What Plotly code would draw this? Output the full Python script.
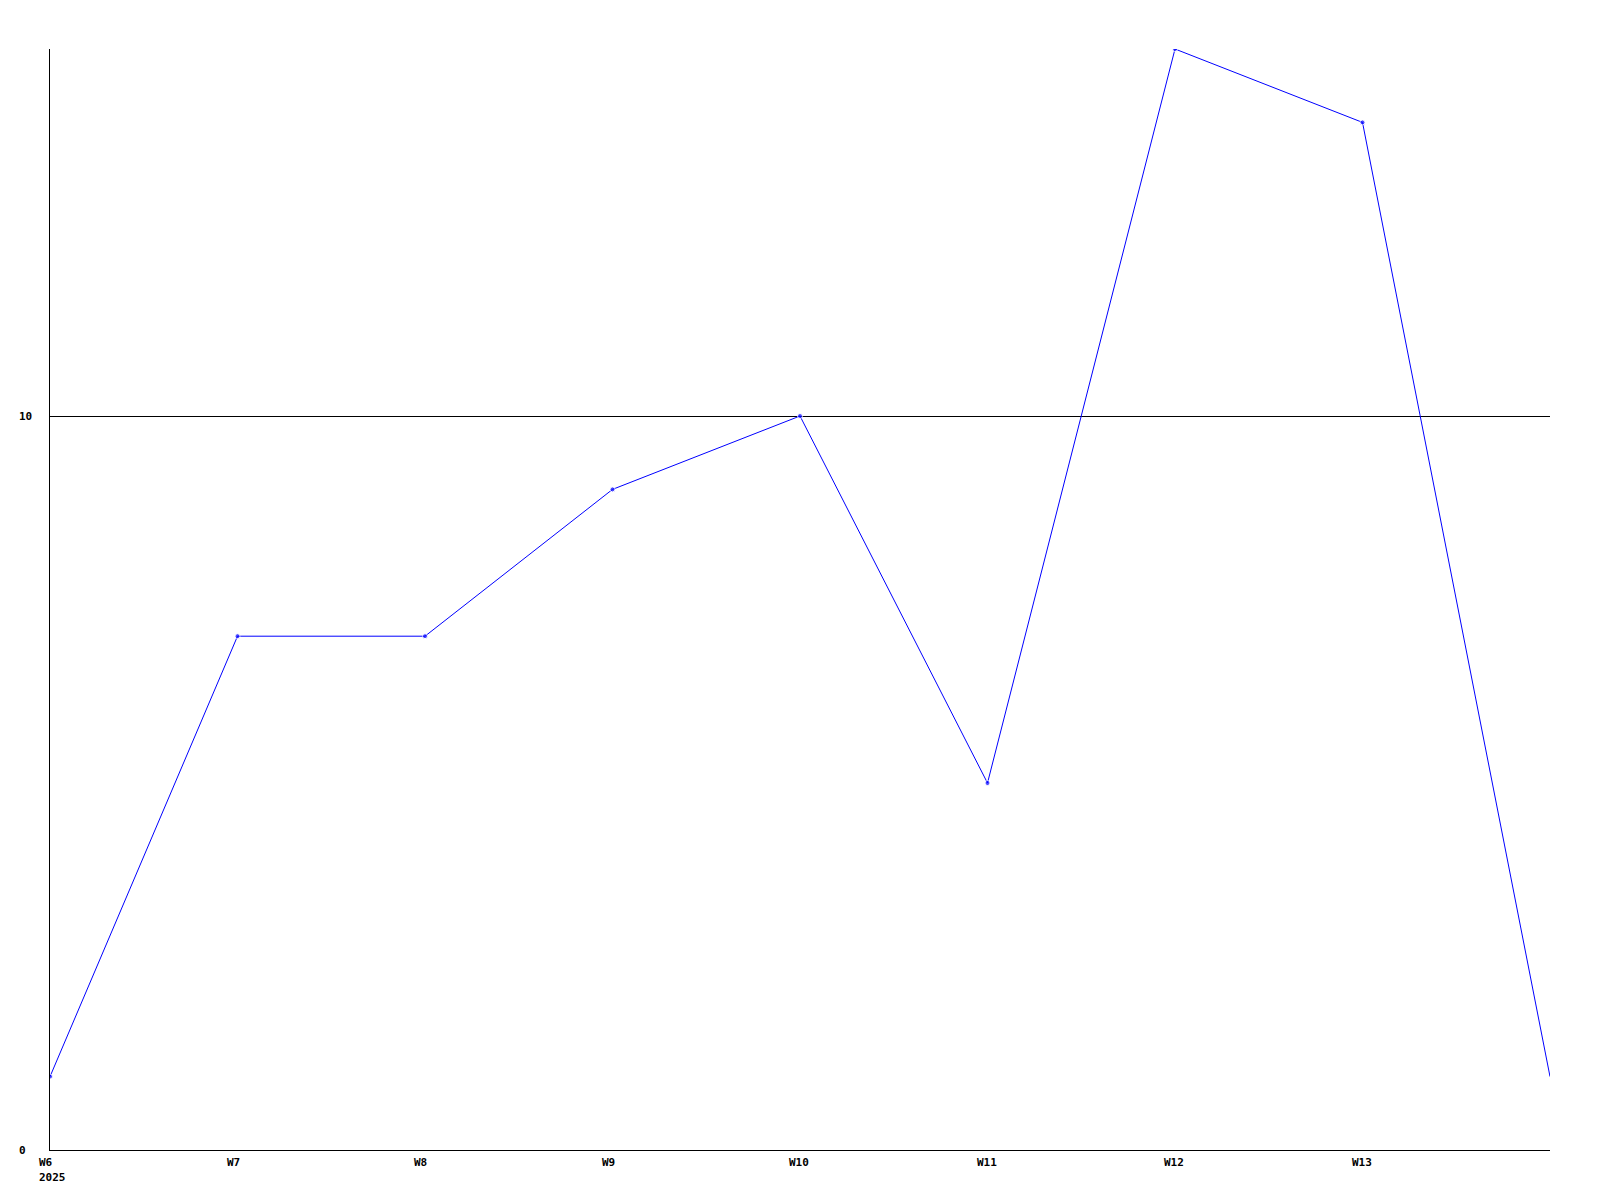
import plotly.graph_objects as go

weeks = ["W6", "W7", "W8", "W9", "W10", "W11", "W12", "W13", "W14"]
values = [1, 7, 7, 9, 10, 5, 15, 14, 1]
x_tick_labels = ["W6", "W7", "W8", "W9", "W10", "W11", "W12", "W13"]
year_label = "2025"
y_tick_values = [0, 10]
y_tick_labels = ["0", "10"]

xpos = list(range(len(weeks)))
marker_sizes = [5] * (len(weeks) - 1) + [0]

FONT = "DejaVu Sans Mono"

fig = go.Figure()
fig.add_trace(go.Scatter(
    x=xpos, y=values, mode="lines+markers",
    line=dict(color="#0000ff", width=1),
    marker=dict(color="#0000ff", size=marker_sizes, symbol="circle"),
    showlegend=False, hoverinfo="y",
))

annotations = []
for i, lab in enumerate(x_tick_labels):
    annotations.append(dict(
        x=i, y=0, xref="x", yref="paper", text="<b>%s</b>" % lab,
        showarrow=False, xanchor="left", yanchor="top", xshift=-13, yshift=-4,
        font=dict(family=FONT, size=11, color="black"),
    ))
annotations.append(dict(
    x=0, y=0, xref="x", yref="paper", text="<b>%s</b>" % year_label,
    showarrow=False, xanchor="left", yanchor="top", xshift=-13, yshift=-19,
    font=dict(family=FONT, size=11, color="black"),
))
for v, lab in zip(y_tick_values, y_tick_labels):
    annotations.append(dict(
        x=0, y=v, xref="paper", yref="y", text="<b>%s</b>" % lab,
        showarrow=False, xanchor="left", yanchor="middle", xshift=-33,
        font=dict(family=FONT, size=11, color="black"),
    ))

fig.update_layout(
    width=1600, height=1200,
    margin=dict(l=42, r=58, t=41, b=58),
    paper_bgcolor="white", plot_bgcolor="white",
    annotations=annotations,
    xaxis=dict(range=[0, len(weeks) - 1], showgrid=False, zeroline=False,
               showticklabels=False, showline=True, linecolor="black",
               linewidth=1, ticks=""),
    yaxis=dict(range=[0, 15], tickvals=[10], showgrid=True, gridcolor="black",
               gridwidth=1, zeroline=False, showticklabels=False,
               showline=True, linecolor="black", linewidth=1, ticks=""),
)

fig.write_html("out.html")
